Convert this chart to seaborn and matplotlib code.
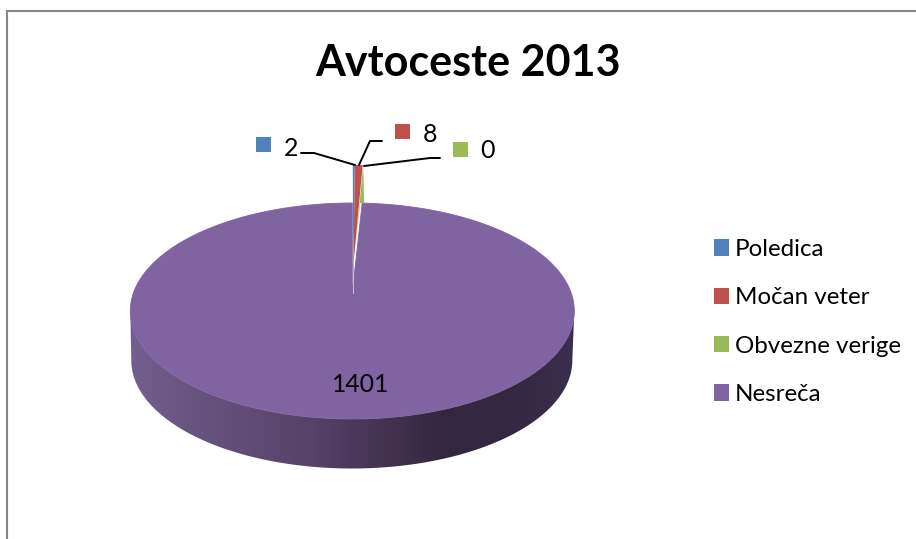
import numpy as np
import matplotlib
matplotlib.use("Agg")
import matplotlib.pyplot as plt
from matplotlib.colors import LinearSegmentedColormap
from matplotlib.lines import Line2D
from matplotlib.patches import Patch, Polygon
import seaborn as sns

# Closures on motorways in 2013, by cause
categories = ["Poledica", "Močan veter", "Obvezne verige", "Nesreča"]
closures = [2, 8, 0, 1401]
title = "Avtoceste 2013"

sns.set_theme(style="white")
plt.rcParams["font.family"] = ["Lato", "DejaVu Sans"]
palette = sns.color_palette(["#4F81BD", "#C0504D", "#9BBB59", "#8064A2"])

W, H = 916, 539
fig = plt.figure(figsize=(W / 100, H / 100), dpi=100, facecolor="white")
ax = fig.add_axes([0, 0, 1, 1])
ax.set_xlim(0, W)
ax.set_ylim(H, 0)
ax.axis("off")

# Chart frame: only the top and left edges are visible
ax.plot([6.5, 6.5, W], [H, 10.5, 10.5], color="#868686", lw=1.5, zorder=1,
        solid_joinstyle="miter")

# Geometry of the tilted disc, in pixels
cx, cy = 352.3, 311.0
rx, ry = 222.0, 108.0
depth = 50.0

shares = np.array(closures, dtype=float) / sum(closures)
edges = np.concatenate([[0.0], np.cumsum(shares)]) * 2 * np.pi


def arc(start, stop, n=400, x0=cx, y0=cy, a=rx, b=ry):
    t = np.linspace(start, stop, n)
    return np.column_stack([x0 + a * np.sin(t), y0 - b * np.cos(t)])


# Side wall of the disc with a horizontal shading ramp
front = arc(np.pi / 2, 3 * np.pi / 2, x0=cx - 0.5, y0=cy + depth - 0.5, a=rx - 1.5)
wall_outline = np.vstack([arc(np.pi / 2, 3 * np.pi / 2)[::-1], front])
wall_poly = Polygon(wall_outline, closed=True, transform=ax.transData,
                    facecolor="none", edgecolor="none")
ax.add_patch(wall_poly)
ramp = LinearSegmentedColormap.from_list(
    "wall",
    [(0.00, "#73608F"), (0.15, "#675380"), (0.40, "#574369"),
     (0.70, "#34273F"), (0.85, "#33283F"), (1.00, "#3B2E4E")],
)
img = ax.imshow(np.linspace(0, 1, 256)[None, :], cmap=ramp, aspect="auto",
                extent=(cx - rx, cx + rx, cy + ry + depth + 2, cy - 2), zorder=2,
                interpolation="bilinear")
img.set_clip_path(wall_poly)
ax.set_xlim(0, W)
ax.set_ylim(H, 0)

# Top face: the largest slice runs almost all the way round
top_face = np.vstack([[cx, cy - 18], arc(edges[3], edges[4])])
ax.add_patch(Polygon(top_face, closed=True, facecolor=palette[3],
                     edgecolor=palette[3], lw=0.6, zorder=3))

# The thin slices stand out above the rim, meeting at a raised apex
apex = np.array([cx + 0.5, cy - 18])
rim_y = 165.0
ax.plot([apex[0], apex[0]], [apex[1], apex[1] - 30], color="#C9BFD8", lw=0.7, zorder=4)


def rim_point(angle):
    return np.array([apex[0] + rx * np.sin(angle), rim_y])


# A zero share has no face of its own, so it shows as the edge of the slice before it
edge_end = rim_point(edges[2])
ax.add_patch(Polygon([edge_end + [0.5, 0], edge_end + [1.5, 38], edge_end + [-2.5, 38],
                      apex + [2.5, -45]],
                     closed=True, facecolor=palette[2], edgecolor="none", zorder=4))
for i in range(2):
    tip = apex + [0.3 * (i + 1), -13 - 15 * i]
    ax.add_patch(Polygon([tip, rim_point(edges[i]), rim_point(edges[i + 1])],
                         closed=True, facecolor=palette[i], edgecolor="none", zorder=5))

# Value labels with swatches and leader lines
label_layout = [
    (256, 137, 283.5, 148, [(301, 153), (314, 153), (355, 165)]),
    (395, 124, 422.5, 135, [(382, 141), (370, 141), (359, 165)]),
    (453, 142, 480.5, 151, [(440, 158), (430, 158), (364, 166)]),
]
for i, (sx, sy, tx, ty, leader) in enumerate(label_layout):
    ax.add_patch(Polygon([(sx, sy), (sx + 15, sy), (sx + 15, sy + 15), (sx, sy + 15)],
                         closed=True, facecolor=palette[i], edgecolor="none", zorder=6))
    ax.text(tx, ty, str(closures[i]), fontsize=18, color="black", va="center", ha="left", zorder=6)
    xs, ys = zip(*leader)
    ax.add_line(Line2D(xs, ys, color="black", lw=1.4, zorder=6))
ax.text(361, 385, str(closures[3]), fontsize=17.8, color="black",
        va="center", ha="center", zorder=6)

ax.text(467.5, 63, title, fontsize=31, fontweight="bold", color="black",
        ha="center", va="center", zorder=6)

# Legend on the right
handles = [Patch(facecolor=c, edgecolor="none") for c in palette]
ax.legend(handles, categories, loc="upper left", bbox_to_anchor=(714 / W, 1 - 239 / H),
          frameon=False, fontsize=17.4, handlelength=0.62, handleheight=0.66,
          handletextpad=0.25, labelspacing=1.13, borderpad=0, borderaxespad=0,
          labelcolor="black")

fig.savefig("out.png", dpi=100, facecolor="white")
